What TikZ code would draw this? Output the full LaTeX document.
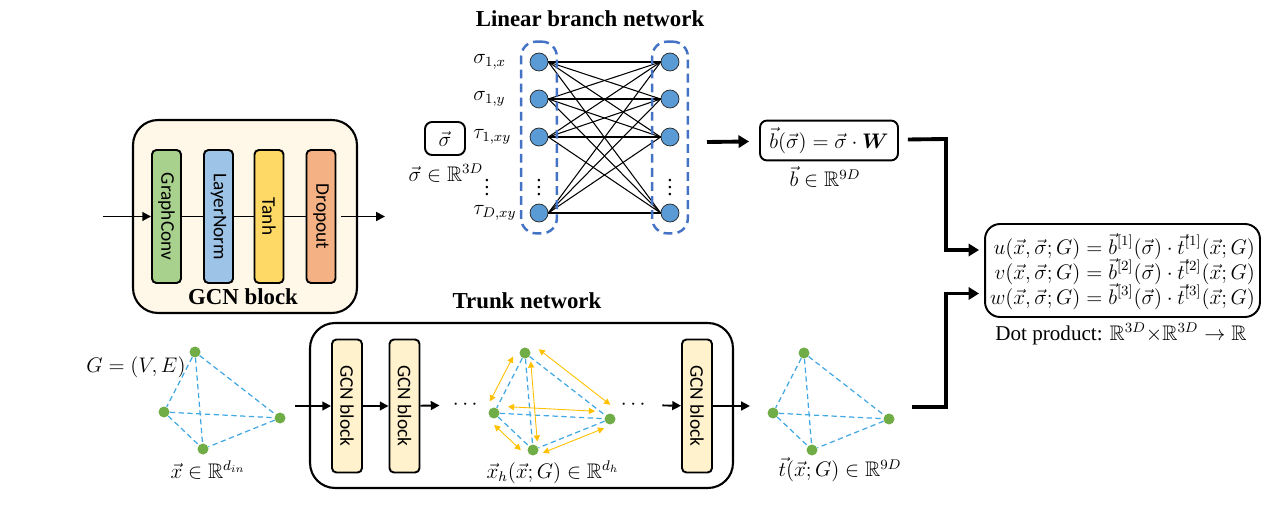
\documentclass[tikz,border=0pt,12pt]{standalone}
\usepackage{amsmath,amssymb}
\usepackage{fontspec}
\usepackage{bm}
\setmainfont{Liberation Serif}
\newfontfamily\calibri{Carlito}
\usetikzlibrary{arrows.meta,positioning,fit}

\definecolor{gcnfill}{HTML}{FFF8E8}
\definecolor{convgreen}{HTML}{A9D18E}
\definecolor{normblue}{HTML}{9DC3E6}
\definecolor{tanhyellow}{HTML}{FFD966}
\definecolor{dropred}{HTML}{F4B183}
\definecolor{blockfill}{HTML}{FFF2CC}
\definecolor{neuronblue}{HTML}{5B9BD5}
\definecolor{dashblue}{HTML}{4472C4}
\definecolor{vertgreen}{HTML}{70AD47}
\definecolor{edgeblue}{HTML}{41A8E3}
\definecolor{msgorange}{HTML}{FFC000}

% graph with four vertices, #1 prefix, top vertex at (#2,#3)
\newcommand{\tetra}[3]{%
  \begin{scope}[shift={(#2,#3)}]
    \node[vertex] (#1t) at (0,0) {};
    \node[vertex] (#1l) at (-31,60) {};
    \node[vertex] (#1r) at (85,66) {};
    \node[vertex] (#1b) at (8,97) {};
  \end{scope}
  \foreach \p/\q in {t/l,t/r,t/b,l/r,l/b,r/b}
    \draw[link] (#1\p) -- (#1\q);
}

\begin{document}
\begin{tikzpicture}[x=0.02cm, y=-0.02cm,
    title/.style={font=\fontsize{13}{15}\selectfont\bfseries},
    gcnlayer/.style={draw, line width=1.1pt, rounded corners=2.5pt, rotate=-90,
      minimum width=2.66cm, minimum height=0.58cm, inner sep=0pt,
      font=\calibri\fontsize{11}{13}\selectfont},
    neuron/.style={circle, draw=black!85, fill=neuronblue, minimum size=0.36cm, inner sep=0pt},
    neurongroup/.style={draw=dashblue, line width=1.4pt, dash pattern=on 5pt off 3pt,
      rounded corners=0.3cm, inner xsep=0.17cm, inner ysep=0.22cm},
    vertex/.style={circle, fill=vertgreen, minimum size=0.22cm, inner sep=0pt},
    link/.style={draw=edgeblue, line width=0.7pt, dash pattern=on 3pt off 2pt},
    msg/.style={draw=msgorange, line width=0.5pt,
      {Triangle[length=3.5pt,width=3.5pt]}-{Triangle[length=3.5pt,width=3.5pt]},
      shorten <=0.17cm, shorten >=0.17cm},
    flow/.style={line width=1.1pt, -{Triangle[length=5pt,width=5pt]}},
    fat/.style={line width=2.2pt, -{Triangle[length=6pt,width=7pt]}},
    panel/.style={draw, line width=1.2pt, rounded corners=0.5cm},
    eqbox/.style={draw, line width=1.1pt, rounded corners=4pt}]
  \useasboundingbox (0,0) rectangle (1268,513);

  % GCN block
  \node[panel, fill=gcnfill, minimum width=4.48cm, minimum height=3.86cm] (gcn) at (245,216.5) {};
  \node[gcnlayer, fill=convgreen] (conv) at (166.5,216.5) {GraphConv};
  \node[gcnlayer, fill=normblue] (norm) at (218.5,216.5) {LayerNorm};
  \node[gcnlayer, fill=tanhyellow] (tanh) at (269,216.5) {Tanh};
  \node[gcnlayer, fill=dropred] (drop) at (321,216.5) {Dropout};
  \node[title] (gcnname) at (243,297) {GCN block};
  \coordinate (gcnin) at (103,216.5);
  \coordinate (gcnout) at (385,216.5);
  \draw[line width=1.1pt] (conv) -- (norm) -- (tanh) -- (drop);
  \draw[flow] (gcnin) -- (conv);
  \draw[flow, shorten <=0.1cm] (drop) -- (gcnout);

  % linear branch
  \node[title] (branchname) at (590,19) {Linear branch network};
  \foreach \y [count=\i] in {62,99,137,213} {
    \node[neuron] (l\i) at (539,\y) {};
    \node[neuron] (r\i) at (670,\y) {};
  }
  \foreach \i in {1,...,4}
    \foreach \j in {1,...,4}
      \draw[line width=0.6pt] (l\i.east) -- (r\j.west);
  \node[neurongroup, fit=(l1)(l4)] (lgroup) {};
  \node[neurongroup, fit=(r1)(r4)] (rgroup) {};
  \node (ldots) at (539,182) {$\vdots$};
  \node (rdots) at (670,182) {$\vdots$};
  \node[anchor=west] (s1x) at (466,62) {$\sigma_{1,x}$};
  \node[anchor=west] (s1y) at (466,99) {$\sigma_{1,y}$};
  \node[anchor=west] (t1xy) at (466,137) {$\tau_{1,xy}$};
  \node (sdots) at (487,182) {$\vdots$};
  \node[anchor=west] (tdxy) at (466,213) {$\tau_{D,xy}$};
  \node[eqbox, minimum width=0.8cm, minimum height=0.66cm] (sig) at (445,138.5) {$\vec{\sigma}$};
  \node (sigdim) at (446,173) {$\vec{\sigma}\in\mathbb{R}^{3D}$};

  \coordinate (branchout) at (707,142);
  \node[eqbox, minimum width=2.76cm, minimum height=0.66cm] (bfun) at (829,140.5)
    {$\vec{b}(\vec{\sigma})=\vec{\sigma}\cdot\bm{W}$};
  \node (bdim) at (825,177) {$\vec{b}\in\mathbb{R}^{9D}$};
  \draw[fat, shorten >=0.2cm] (branchout) -- (bfun);

  % output
  \node[eqbox, rounded corners=0.3cm, minimum width=5.5cm, minimum height=1.86cm] (out) at (1122.5,270.5) {};
  \node (eqs) at (1122.5,273)
    {\setlength\jot{0pt}\setlength\lineskiplimit{-20pt}\setlength\baselineskip{14.2pt}%
    $\begin{aligned}
      u(\vec{x},\vec{\sigma};G)&=\vec{b}^{[1]}(\vec{\sigma})\cdot\vec{t}^{[1]}(\vec{x};G)\\
      v(\vec{x},\vec{\sigma};G)&=\vec{b}^{[2]}(\vec{\sigma})\cdot\vec{t}^{[2]}(\vec{x};G)\\
      w(\vec{x},\vec{\sigma};G)&=\vec{b}^{[3]}(\vec{\sigma})\cdot\vec{t}^{[3]}(\vec{x};G)
    \end{aligned}$};
  \node (dotprod) at (1121,334) {Dot product: $\mathbb{R}^{3D}{\times}\mathbb{R}^{3D}\rightarrow\mathbb{R}$};
  \coordinate (bend1) at (946,139);
  \draw[fat, shorten <=0.18cm, shorten >=0.1cm] (bfun) -- (bend1) |- ([yshift=0.41cm]out.west);

  % trunk
  \node[panel, minimum width=8.46cm, minimum height=3.3cm] (trunk) at (521.5,405.5) {};
  \node[title] (trunkname) at (527,301) {Trunk network};
  \node[gcnlayer, fill=blockfill, minimum height=0.6cm] (blk1) at (347,406) {GCN block};
  \node[gcnlayer, fill=blockfill, minimum height=0.6cm] (blk2) at (404.5,406) {GCN block};
  \node[gcnlayer, fill=blockfill, minimum height=0.6cm] (blk3) at (697,406) {GCN block};
  \node (hdots1) at (467,405) {$\cdots$};
  \node (hdots2) at (635,405) {$\cdots$};
  \coordinate (trunkin) at (295,406);
  \coordinate (trunkout) at (750,406);
  \draw[flow] (trunkin) -- (blk1);
  \draw[flow] (blk1) -- (blk2);
  \draw[flow, shorten >=0.12cm] (blk2) -- (hdots1);
  \draw[flow, shorten <=0.12cm] (hdots2) -- (blk3);
  \draw[flow] (blk3) -- (trunkout);

  % graphs
  \tetra{g}{195}{352}
  \tetra{h}{525}{353}
  \tetra{o}{804}{353}
  \draw[msg] ([shift={(-8,-4)}]ht.center) -- ([shift={(-8,-4)}]hl.center);
  \draw[msg] ([shift={(7,-9)}]ht.center) -- ([shift={(7,-9)}]hr.center);
  \draw[msg] ([shift={(5,0)}]ht.center) -- ([shift={(5,0)}]hb.center);
  \draw[msg, shorten <=0.28cm, shorten >=0.3cm] ([shift={(0,-7)}]hl.center) -- ([shift={(0,-7)}]hr.center);
  \draw[msg] ([shift={(-6,6)}]hl.center) -- ([shift={(-6,6)}]hb.center);
  \draw[msg] ([shift={(2,6)}]hb.center) -- ([shift={(2,6)}]hr.center);
  \node (gname) at (136,367) {$G=(V,E)$};
  \node (xdim) at (208,470) {$\vec{x}\in\mathbb{R}^{d_{in}}$};
  \node (hdim) at (553,472) {$\vec{x}_h(\vec{x};G)\in\mathbb{R}^{d_h}$};
  \node (tdim) at (840,470) {$\vec{t}(\vec{x};G)\in\mathbb{R}^{9D}$};

  \coordinate (tout) at (912,407);
  \coordinate (bend2) at (946,407);
  \draw[fat, shorten >=0.1cm] (tout) -- (bend2) |- ([yshift=-0.46cm]out.west);
\end{tikzpicture}
\end{document}
